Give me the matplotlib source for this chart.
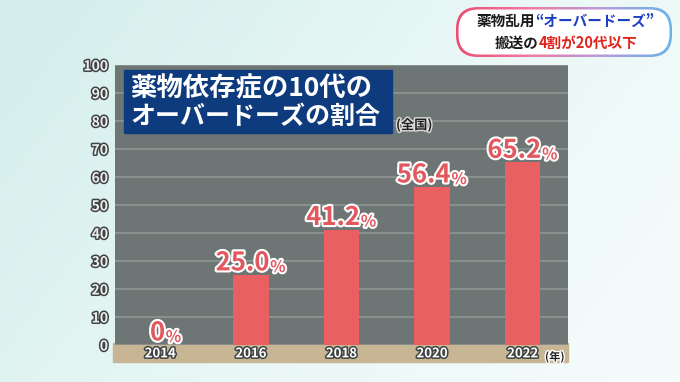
import numpy as np
import matplotlib
matplotlib.use('Agg')
import matplotlib.pyplot as plt
import matplotlib.patches as patches
import matplotlib.patheffects as pe
from matplotlib.colors import LinearSegmentedColormap

plt.rcParams['font.family'] = ['Noto Sans CJK JP', 'DejaVu Sans']

# data
years = ['2014', '2016', '2018', '2020', '2022']
shares = [0, 25.0, 41.2, 56.4, 65.2]
share_labels = ['0', '25.0', '41.2', '56.4', '65.2']
y_ticks = list(range(0, 101, 10))

title_lines = ['薬物依存症の10代の', 'オーバードーズの割合']
badge_line1 = [('薬物乱用', '#1a1a1a'), ('“オーバードーズ”', '#1d3fc4')]
badge_line2 = [('搬送の', '#1a1a1a'), ('4割が20代以下', '#e0241c')]

W, H = 680, 382
fig = plt.figure(figsize=(W / 100, H / 100), dpi=100)

# background axes in pixel coords
bg = fig.add_axes([0, 0, 1, 1], zorder=0)
bg.set_xlim(0, W)
bg.set_ylim(H, 0)
bg.axis('off')
gx, gy = np.meshgrid(np.linspace(0, 1, 200), np.linspace(0, 1, 120))
grad = 0.7 * gx + 0.3 * gy
bg_cmap = LinearSegmentedColormap.from_list('bg', ['#d3eeeb', '#e8f7f5', '#f6fcfc'])
bg.imshow(grad, cmap=bg_cmap, extent=(0, W, H, 0), aspect='auto')
# tan band under the axis
bg.add_patch(patches.Rectangle((113, 343), 455, 19, color='#c8b593'))

# main chart
ax = fig.add_axes([115 / W, 37 / H, 453 / W, 280 / H], zorder=1)
ax.set_facecolor('#6e7675')
ax.set_xlim(-0.5, len(years) - 0.5)
ax.set_ylim(0, 100)
for s in ax.spines.values():
    s.set_visible(False)
ax.set_yticks(y_ticks)
ax.yaxis.grid(True, color='#8e9694', linewidth=1.2)
ax.set_axisbelow(True)

outline_dark = [pe.withStroke(linewidth=2.2, foreground='#404444')]
ax.set_yticklabels([str(t) for t in y_ticks], fontsize=10, fontweight='bold',
                   color='#eeeeee', path_effects=outline_dark)
ax.set_xticks(range(len(years)))
ax.set_xticklabels(years, fontsize=9.5, fontweight='bold', color='white',
                   path_effects=outline_dark)
ax.tick_params(axis='y', length=0, pad=5)
ax.tick_params(axis='x', length=0, pad=1)

ax.bar(range(len(years)), shares, width=0.39, color='#ea5f62', zorder=2)

red_txt = '#e3585e'
white_edge = [pe.withStroke(linewidth=3, foreground='white')]
for i, (v, lab) in enumerate(zip(shares, share_labels)):
    # short labels need less shift to stay centred over the bar
    dx = -6 if len(lab) > 1 else -2
    t = ax.annotate(lab, xy=(i, v), xytext=(dx, -1), textcoords='offset points',
                    ha='center', va='bottom', fontsize=18.5, fontweight='bold',
                    color=red_txt, path_effects=white_edge, zorder=3)
    ax.annotate('%', xy=(1, 0), xycoords=t, xytext=(0.5, 1),
                textcoords='offset points', ha='left', va='bottom',
                fontsize=11.5, fontweight='bold', color=red_txt,
                path_effects=white_edge, zorder=3)

# overlay for title box, notes and badge
ov = fig.add_axes([0, 0, 1, 1], zorder=3)
ov.set_xlim(0, W)
ov.set_ylim(H, 0)
ov.axis('off')
ov.patch.set_alpha(0)

ov.add_patch(patches.Rectangle((124, 70), 268, 63, color='#0e3b7e'))
ov.text(130, 89, title_lines[0], ha='left', va='center', fontsize=19,
        fontweight='bold', color='white')
ov.text(130, 117, title_lines[1], ha='left', va='center', fontsize=18,
        fontweight='bold', color='white')
ov.text(396, 125, '(全国)', ha='left', va='center', fontsize=9.5,
        fontweight='bold', color='#222222',
        path_effects=[pe.withStroke(linewidth=2, foreground='#dddddd')])
ov.text(545, 357, '(年)', ha='left', va='center', fontsize=8,
        fontweight='bold', color='#222222',
        path_effects=[pe.withStroke(linewidth=2, foreground='white')])

# badge with gradient border
outer = patches.FancyBboxPatch((456, 7), 216, 50,
                               boxstyle='round,pad=0,rounding_size=22',
                               facecolor='none', edgecolor='none')
ov.add_patch(outer)
border_cmap = LinearSegmentedColormap.from_list(
    'border', ['#f04a72', '#f07aa0', '#b89ad8', '#6ab4e8'])
img = ov.imshow(np.linspace(0, 1, 256).reshape(1, -1), cmap=border_cmap,
                extent=(456, 672, 57, 7), aspect='auto', zorder=4)
img.set_clip_path(outer)
ov.add_patch(patches.FancyBboxPatch((458.5, 9.5), 211, 45,
                                    boxstyle='round,pad=0,rounding_size=20',
                                    facecolor='white', edgecolor='none', zorder=5))


def chain(x, y, parts, size):
    prev = None
    for txt, col in parts:
        if prev is None:
            prev = ov.text(x, y, txt, ha='left', va='center', fontsize=size,
                           fontweight='bold', color=col, zorder=6)
        else:
            prev = ov.annotate(txt, xy=(1, 0.5), xycoords=prev, ha='left',
                               va='center', fontsize=size, fontweight='bold',
                               color=col, zorder=6)


chain(477, 21, badge_line1, 10.5)
chain(495, 43, badge_line2, 10.5)

fig.savefig('out.png', dpi=100)
